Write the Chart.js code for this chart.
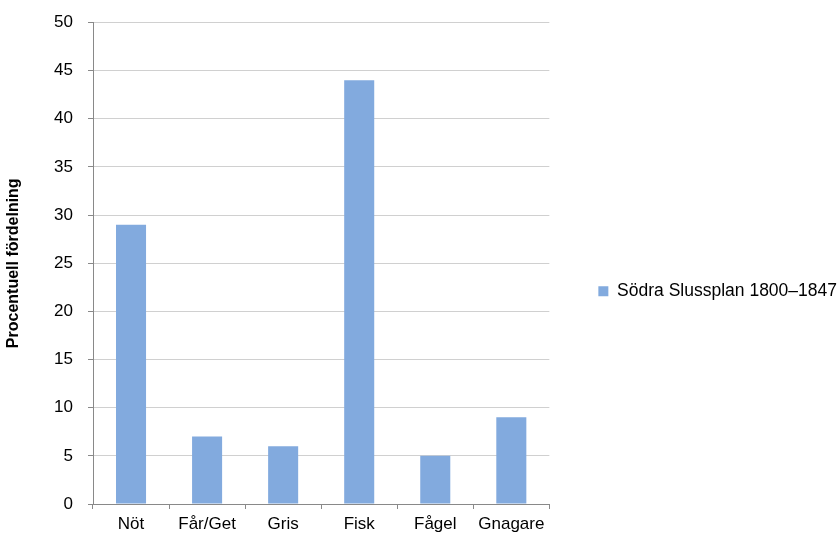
<!DOCTYPE html>
<html lang="sv">
<head>
    <meta charset="UTF-8">
    <title>Procentuell fördelning</title>
    <script src="https://cdn.jsdelivr.net/npm/chart.js"></script>
    <style>
        html, body {
            margin: 0;
            padding: 0;
            background: #ffffff;
        }
        #chart {
            display: block;
        }
    </style>
</head>
<body>
    <canvas id="chart" width="840" height="541"></canvas>

    <script>
        // data
        const categories = ['Nöt', 'Får/Get', 'Gris', 'Fisk', 'Fågel', 'Gnagare'];
        const seriesName = 'Södra Slussplan 1800–1847';
        const seriesValues = [29, 7, 6, 44, 5, 9];
        const yMin = 0;
        const yMax = 50;
        const yStep = 5;
        const yTitle = 'Procentuell fördelning';

        const fontFamily = "'Liberation Sans', Arial, sans-serif";
        const axisColor = '#898989';
        const gridColor = '#d0d0d0';

        const ctx = document.getElementById('chart').getContext('2d');
        new Chart(ctx, {
            type: 'bar',
            data: {
                labels: categories,
                datasets: [{
                    label: seriesName,
                    data: seriesValues,
                    backgroundColor: '#82aade',
                    borderWidth: 0,
                    categoryPercentage: 1.0,
                    barPercentage: 0.395
                }]
            },
            options: {
                responsive: false,
                animation: false,
                devicePixelRatio: 1,
                layout: {
                    padding: { top: 22.5, right: -7, bottom: 0, left: 0 }
                },
                plugins: {
                    tooltip: { enabled: false },
                    legend: {
                        position: 'right',
                        maxWidth: 260,
                        title: {
                            display: true,
                            text: ' ',
                            font: { size: 10 },
                            padding: { top: 7, bottom: 0 }
                        },
                        labels: {
                            boxWidth: 10,
                            boxHeight: 10,
                            padding: 3,
                            color: '#000000',
                            font: { family: fontFamily, size: 17.5 }
                        }
                    }
                },
                scales: {
                    x: {
                        grid: {
                            display: true,
                            offset: true,
                            drawOnChartArea: false,
                            tickLength: 5,
                            tickColor: axisColor
                        },
                        border: { display: true, color: axisColor },
                        ticks: {
                            color: '#000000',
                            padding: 5,
                            maxRotation: 0,
                            autoSkip: false,
                            font: { family: fontFamily, size: 17 }
                        },
                        afterFit: function(scale) { scale.height = 37; }
                    },
                    y: {
                        min: yMin,
                        max: yMax,
                        grid: {
                            color: gridColor,
                            tickLength: 5,
                            tickColor: axisColor
                        },
                        border: { display: true, color: axisColor },
                        ticks: {
                            stepSize: yStep,
                            color: '#000000',
                            padding: 15,
                            font: { family: fontFamily, size: 17 }
                        },
                        title: {
                            display: true,
                            text: yTitle,
                            color: '#000000',
                            padding: { top: 4, bottom: 4 },
                            font: { family: fontFamily, size: 16, weight: 'bold' }
                        },
                        afterFit: function(scale) {
                            scale.width = 93;
                            scale.paddingTop = 0;
                            scale.paddingBottom = 0;
                        }
                    },
                    // empty right axis, only keeps the gap between plot and legend
                    gap: {
                        type: 'linear',
                        position: 'right',
                        display: true,
                        grid: { display: false },
                        border: { display: false },
                        ticks: { display: false },
                        afterFit: function(scale) { scale.width = 46; }
                    }
                }
            }
        });
    </script>
</body>
</html>
